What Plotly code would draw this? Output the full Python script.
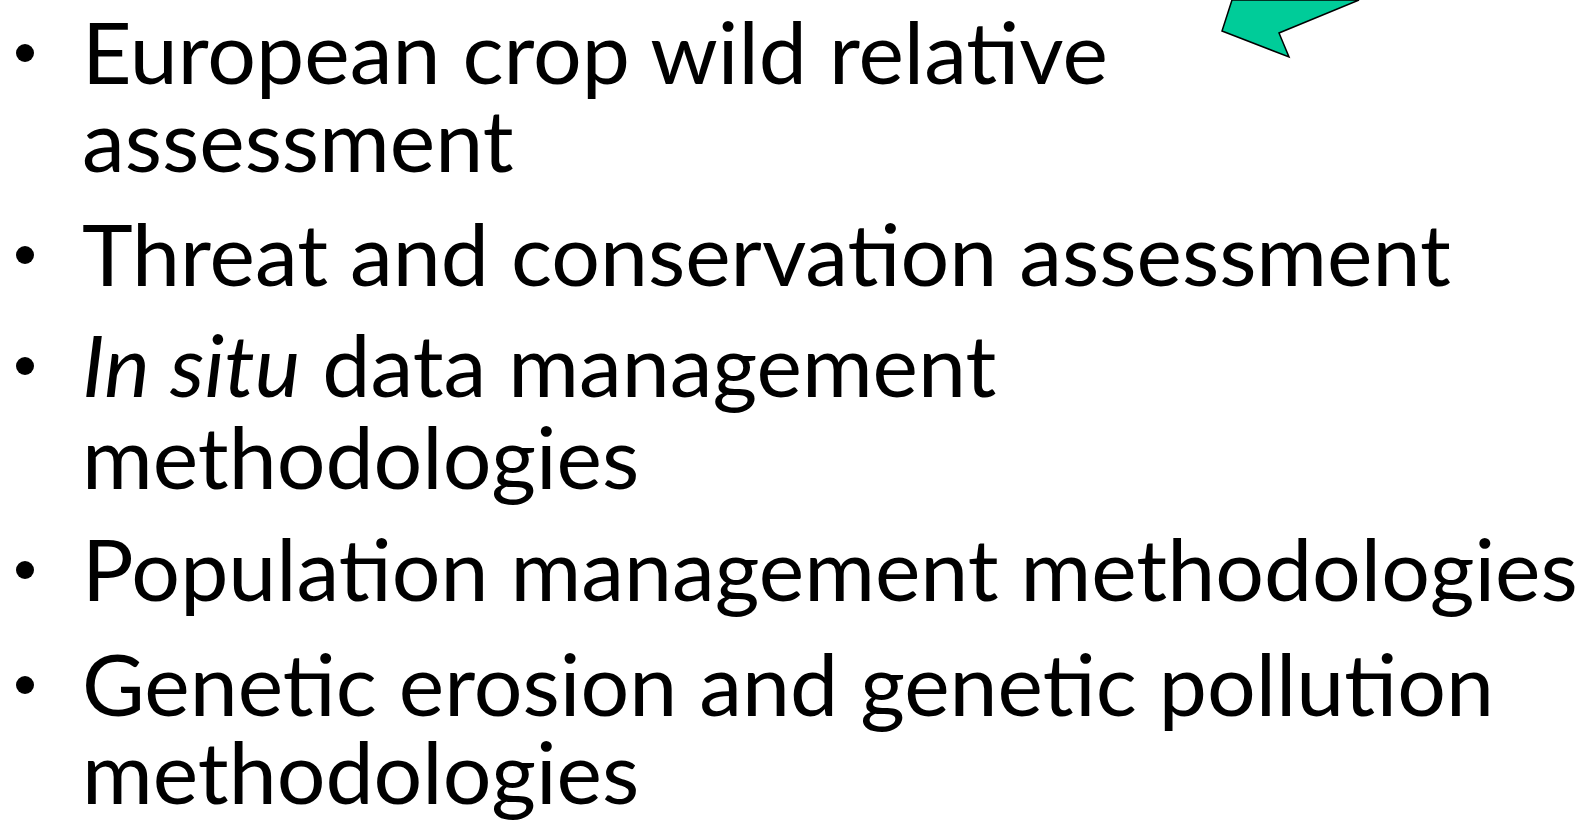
import plotly.graph_objects as go

# Slide content (bullet items, each split into its displayed lines)
bullet_items = [
    ["European crop wild relative", "assessment"],
    ["Threat and conservation assessment"],
    ["<i>In situ</i> data management", "methodologies"],
    ["Population management methodologies"],
    ["Genetic erosion and genetic pollution", "methodologies"],
]
# Baseline position of each displayed line (pixels from top)
line_baselines = [85, 173, 287, 398, 490, 602, 717, 805]

# Arrow outline vertices (pixels)
arrow_x = [1232, 1222, 1289, 1279, 1359]
arrow_y = [0, 31, 57, 33, 0]

W, H = 1594, 826
FS = 86
FONT = "Lato"

fig = go.Figure()
fig.add_trace(go.Scatter(x=[0, W], y=[0, H], mode="markers",
                         marker=dict(opacity=0), hoverinfo="skip", showlegend=False))

annotations = []
bullet_y = []
k = 0
for item in bullet_items:
    for j, line in enumerate(item):
        b = line_baselines[k]
        ymid = b - 0.40 * FS
        if j == 0:
            bullet_y.append(b - 32)
        annotations.append(dict(x=80, y=ymid, xref="x", yref="y", text=line,
                                showarrow=False, xanchor="left", yanchor="middle",
                                font=dict(family=FONT, size=FS, color="black")))
        k += 1

fig.add_trace(go.Scatter(x=[25] * len(bullet_y), y=bullet_y, mode="markers",
                         marker=dict(size=18, color="black", line=dict(width=0)),
                         cliponaxis=False, hoverinfo="skip", showlegend=False))

path = "M " + " L ".join(f"{x},{y}" for x, y in zip(arrow_x, arrow_y)) + " Z"
shapes = [dict(type="path", path=path, xref="x", yref="y",
               fillcolor="rgb(0,204,153)", line=dict(color="black", width=1.5))]

fig.update_layout(
    width=W, height=H,
    margin=dict(l=0, r=0, t=0, b=0),
    paper_bgcolor="white", plot_bgcolor="white",
    xaxis=dict(range=[0, W], visible=False, fixedrange=True),
    yaxis=dict(range=[H, 0], visible=False, fixedrange=True),
    annotations=annotations,
    shapes=shapes,
    showlegend=False,
)
fig.write_html("out.html", config={"displayModeBar": False},
               post_script="document.body.style.margin='0';document.body.style.overflow='hidden';")
